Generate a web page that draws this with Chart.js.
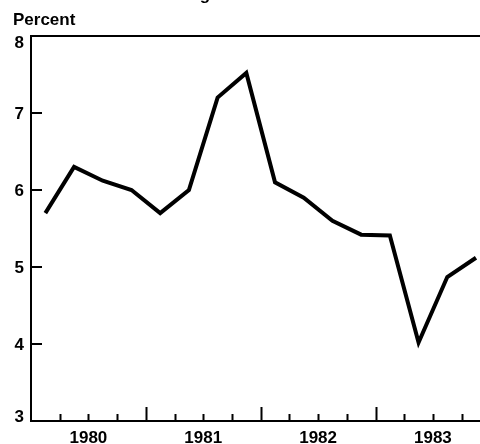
<!DOCTYPE html>
<html>
<head>
<meta charset="utf-8">
<script src="https://cdn.jsdelivr.net/npm/chart.js@4/dist/chart.umd.min.js"></script>
<style>
  html, body { margin: 0; padding: 0; background: #fff; }
  #wrap { width: 480px; height: 444px; position: relative; }
</style>
</head>
<body>
<div id="wrap"><canvas id="c" width="480" height="444"></canvas></div>
<script>
// quarterly values, 1980 Q1 .. 1983 Q4
const quarters = ['1980Q1','1980Q2','1980Q3','1980Q4','1981Q1','1981Q2','1981Q3','1981Q4',
                  '1982Q1','1982Q2','1982Q3','1982Q4','1983Q1','1983Q2','1983Q3','1983Q4'];
const values = [5.7, 6.3, 6.12, 6.0, 5.7, 6.0, 7.2, 7.52, 6.1, 5.9, 5.6, 5.42, 5.41, 4.02, 4.87, 5.12];
const yearLabels = ['1980', '1981', '1982', '1983'];
const yTicks = [3, 4, 5, 6, 7, 8];

const FONT = '"Liberation Sans", Arial, sans-serif';

// x runs in quarters from Jan 1980; each point sits mid-quarter
const points = values.map((v, i) => ({ x: i + 0.5, y: v }));

// inward tick marks, top frame line, percent labels and loose text
const decor = {
    id: 'decor',
    afterDraw(chart) {
        const ctx = chart.ctx;
        const a = chart.chartArea;
        const xs = chart.scales.x, ys = chart.scales.y;
        ctx.save();
        ctx.strokeStyle = '#000';
        ctx.lineWidth = 2;
        ctx.beginPath();
        ctx.moveTo(a.left - 1, a.top);
        ctx.lineTo(a.right, a.top);
        // quarter ticks, taller at year boundaries
        for (let q = 1; q <= quarters.length; q++) {
            const px = Math.round(xs.getPixelForValue(q)) + 0.5;
            if (px > a.right) break;
            const len = (q % 4 === 0) ? 14 : 7;
            ctx.moveTo(px, a.bottom);
            ctx.lineTo(px, a.bottom - len);
        }
        // percent ticks
        yTicks.slice(1, -1).forEach(v => {
            const py = Math.round(ys.getPixelForValue(v));
            ctx.moveTo(a.left, py);
            ctx.lineTo(a.left + 11, py);
        });
        ctx.stroke();

        ctx.fillStyle = '#000';
        ctx.font = 'bold 17px ' + FONT;
        ctx.textBaseline = 'alphabetic';
        // percent labels; the end ones are kept inside the frame
        ctx.textAlign = 'right';
        yTicks.forEach((v, i) => {
            let base = ys.getPixelForValue(v) + 6;
            if (i === yTicks.length - 1) base = a.top + 12;
            if (i === 0) base = a.bottom + 1;
            ctx.fillText(String(v), 24, base);
        });
        ctx.textAlign = 'left';
        ctx.fillText('Percent', 13, 25);
        // bottom of a cut-off heading
        ctx.textAlign = 'center';
        ctx.fillText('g', 205, 0);
        ctx.restore();
    }
};

new Chart(document.getElementById('c'), {
    type: 'line',
    data: {
        datasets: [{
            data: points,
            borderColor: '#000',
            borderWidth: 4,
            pointRadius: 0,
            tension: 0,
            borderJoinStyle: 'miter'
        }]
    },
    options: {
        responsive: false,
        animation: false,
        layout: { padding: { top: 36, right: 0, left: 0, bottom: 0 } },
        plugins: { legend: { display: false }, tooltip: { enabled: false } },
        scales: {
            x: {
                type: 'linear',
                min: 0,
                max: 15.64,
                afterBuildTicks: s => { s.ticks = yearLabels.map((y, i) => ({ value: i * 4 + 2 })); },
                afterFit: s => { s.height = 23; },
                grid: { display: false, drawTicks: false },
                border: { display: true, color: '#000', width: 2 },
                ticks: {
                    color: '#000',
                    padding: 7,
                    maxRotation: 0,
                    autoSkip: false,
                    font: { family: FONT, size: 17, weight: 'bold' },
                    callback: (v, i) => yearLabels[i]
                }
            },
            y: {
                min: 3,
                max: 8,
                afterBuildTicks: s => { s.ticks = yTicks.map(v => ({ value: v })); },
                afterFit: s => { s.width = 31; },
                grid: { display: false, drawTicks: false },
                border: { display: true, color: '#000', width: 2 },
                ticks: { display: false }
            }
        }
    },
    plugins: [decor]
});
</script>
</body>
</html>
